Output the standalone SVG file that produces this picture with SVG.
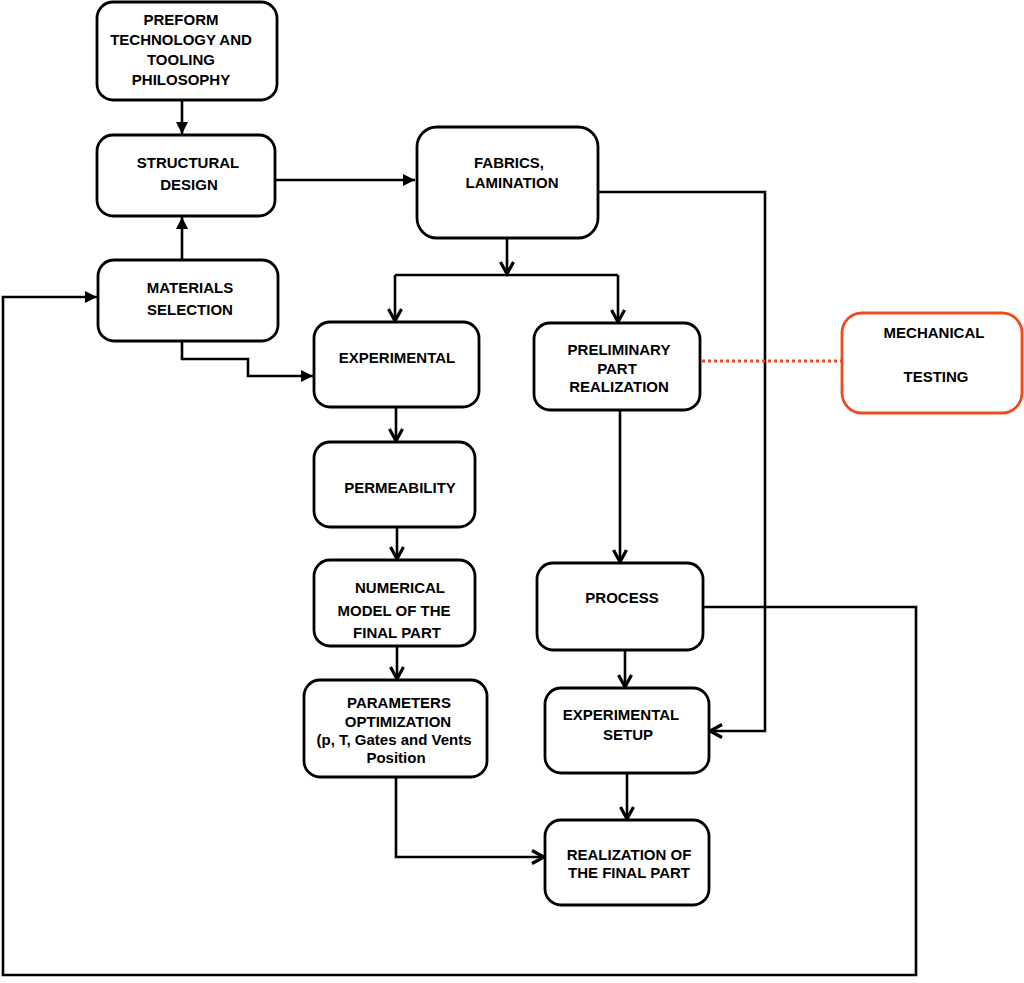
<svg xmlns="http://www.w3.org/2000/svg" width="1024" height="983" viewBox="0 0 1024 983">
<style>
.box{fill:#fff;stroke:#000;stroke-width:2.8}
.obox{fill:#fff;stroke:#EE4B1F;stroke-width:2.8}
.t{font-family:"Liberation Sans",Arial,sans-serif;font-weight:bold;font-size:15px;fill:#000;text-anchor:middle}
.c{fill:none;stroke:#000;stroke-width:2.6}
.f{marker-end:url(#fa)}
.v{marker-end:url(#va)}
</style>
<defs>
<marker id="fa" markerUnits="userSpaceOnUse" markerWidth="14" markerHeight="14" refX="12" refY="6" orient="auto"><path d="M0,0 L12,6 L0,12 z" fill="#000"/></marker>
<marker id="va" markerUnits="userSpaceOnUse" markerWidth="18" markerHeight="18" refX="13" refY="8" orient="auto"><path d="M1,1.5 L13,8 L1,14.5" fill="none" stroke="#000" stroke-width="3.2"/></marker>
</defs>
<rect width="1024" height="983" fill="#fff"/>
<g id="connectors">
<path class="c f" d="M182,100 V134" stroke-width="2"/>
<path class="c f" d="M182,260 V217"/>
<path class="c f" d="M275,180 H415"/>
<path class="c v" d="M507,238 V274"/>
<path class="c" d="M395,275 H618"/>
<path class="c v" d="M395,275 V321"/>
<path class="c v" d="M618,275 V322"/>
<path class="c v" d="M598,192 H765 V731 H710"/>
<path class="c f" d="M182,341 V359 H248 V376 H313"/>
<path class="c f" d="M703,607 H916 V975 H3 V297 H97"/>
<path class="c v" d="M396,407 V441"/>
<path class="c v" d="M397,527 V559"/>
<path class="c v" d="M397,646 V679"/>
<path class="c v" d="M396,777 V857 H544"/>
<path class="c v" d="M620,410 V562"/>
<path class="c v" d="M625,650 V687"/>
<path class="c v" d="M627,773 V819"/>
<path d="M702,361 H842" fill="none" stroke="#EE4B1F" stroke-width="3" stroke-dasharray="3,3"/>
</g>
<g id="preform"><rect class="box" x="97" y="2" width="180" height="98" rx="16"/>
<text class="t" x="181" y="25">PREFORM</text><text class="t" x="181" y="45">TECHNOLOGY AND</text><text class="t" x="181" y="65">TOOLING</text><text class="t" x="181" y="85">PHILOSOPHY</text></g>
<g id="structural"><rect class="box" x="97" y="135" width="178" height="81" rx="16"/>
<text class="t" x="188" y="168">STRUCTURAL</text><text class="t" x="189" y="190">DESIGN</text></g>
<g id="materials"><rect class="box" x="98" y="260" width="180" height="81" rx="16"/>
<text class="t" x="190" y="293">MATERIALS</text><text class="t" x="190" y="315">SELECTION</text></g>
<g id="fabrics"><rect class="box" x="417" y="127" width="181" height="111" rx="20"/>
<text class="t" x="509" y="168">FABRICS,</text><text class="t" x="512" y="188">LAMINATION</text></g>
<g id="experimental"><rect class="box" x="314" y="322" width="165" height="85" rx="16"/>
<text class="t" x="397" y="363">EXPERIMENTAL</text></g>
<g id="preliminary"><rect class="box" x="534" y="323" width="166" height="87" rx="16"/>
<text class="t" x="619" y="355">PRELIMINARY</text><text class="t" x="617" y="374">PART</text><text class="t" x="619" y="392">REALIZATION</text></g>
<g id="mechanical"><rect class="obox" x="842" y="313" width="180" height="100" rx="20"/>
<text class="t" x="934" y="338">MECHANICAL</text><text class="t" x="936" y="382">TESTING</text></g>
<g id="permeability"><rect class="box" x="314" y="442" width="161" height="85" rx="16"/>
<text class="t" x="400" y="493">PERMEABILITY</text></g>
<g id="numerical"><rect class="box" x="314" y="560" width="161" height="86" rx="16"/>
<text class="t" x="400" y="593">NUMERICAL</text><text class="t" x="394" y="616">MODEL OF THE</text><text class="t" x="397" y="638">FINAL PART</text></g>
<g id="parameters"><rect class="box" x="304" y="680" width="183" height="97" rx="16"/>
<text class="t" x="399" y="708">PARAMETERS</text><text class="t" x="398" y="727">OPTIMIZATION</text><text class="t" x="394" y="745">(p, T, Gates and Vents</text><text class="t" x="396" y="763">Position</text></g>
<g id="process"><rect class="box" x="537" y="563" width="166" height="87" rx="16"/>
<text class="t" x="622" y="603">PROCESS</text></g>
<g id="setup"><rect class="box" x="545" y="688" width="164" height="85" rx="16"/>
<text class="t" x="621" y="720">EXPERIMENTAL</text><text class="t" x="628" y="740">SETUP</text></g>
<g id="realization"><rect class="box" x="545" y="820" width="164" height="85" rx="16"/>
<text class="t" x="629" y="860">REALIZATION OF</text><text class="t" x="629" y="878">THE FINAL PART</text></g>
</svg>
